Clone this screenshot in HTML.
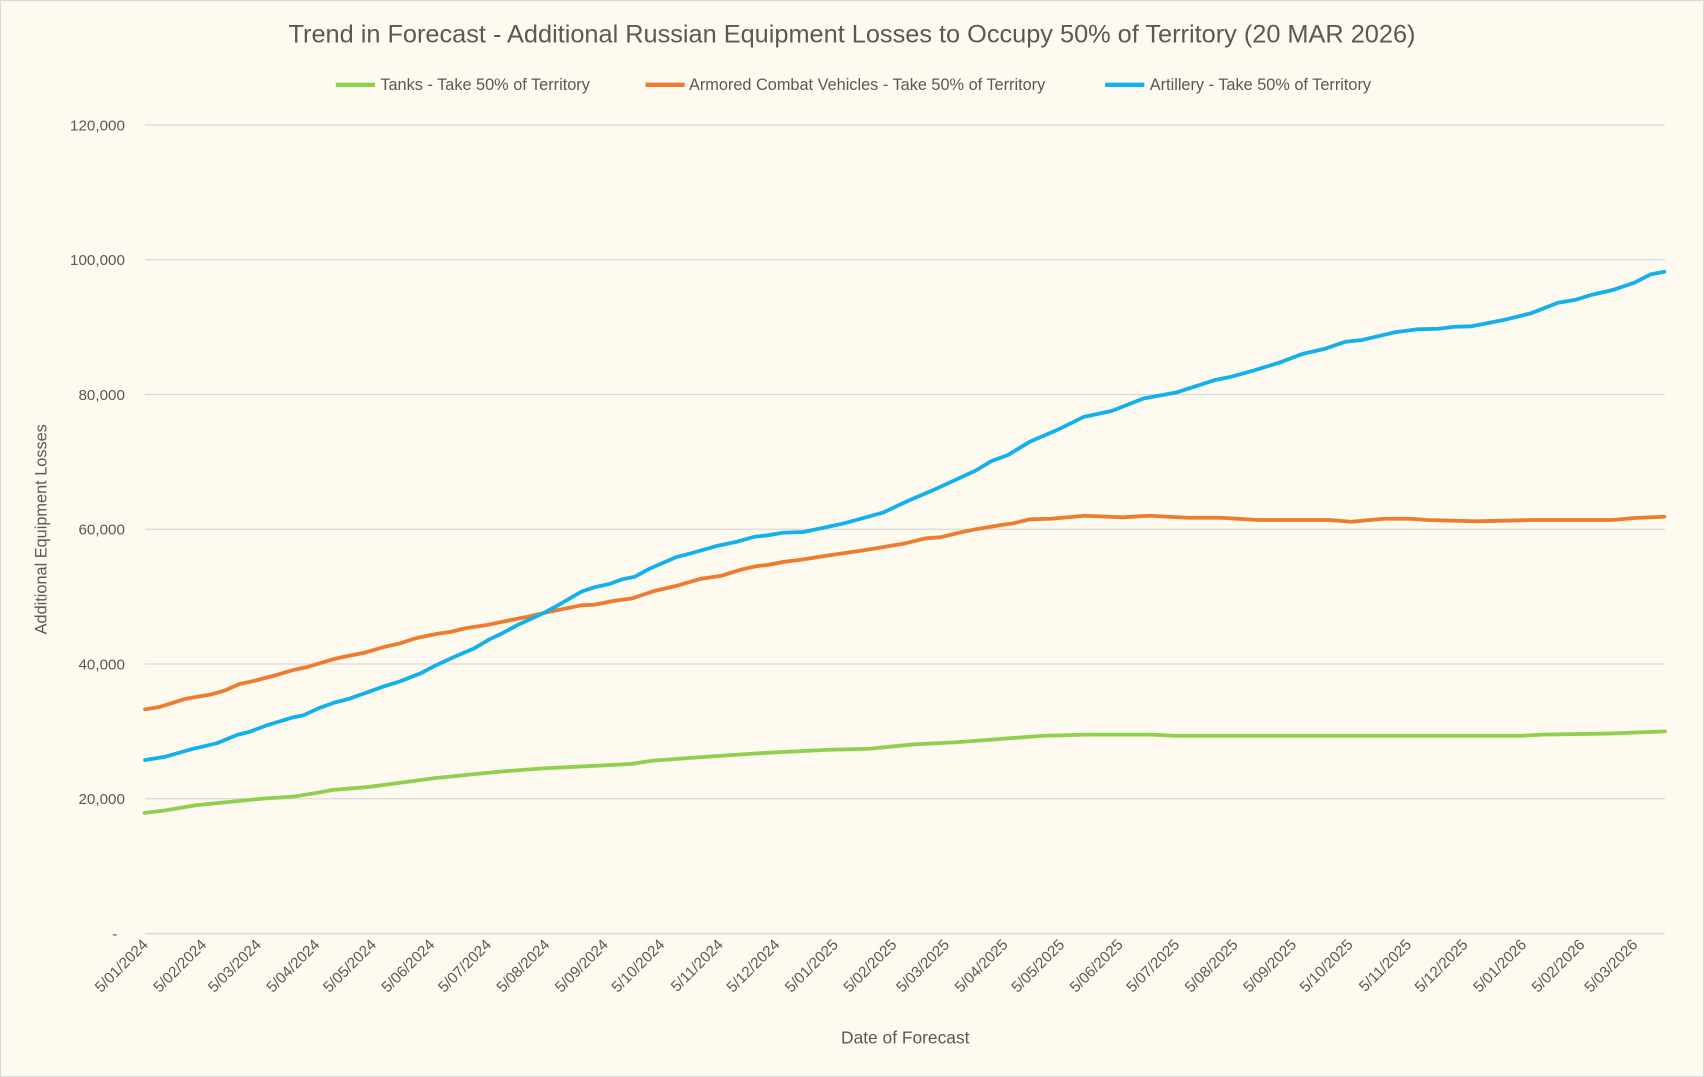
<!DOCTYPE html>
<html><head><meta charset="utf-8"><style>
html,body{margin:0;padding:0;background:#fefaf0}
svg{display:block}
text{font-family:"Liberation Sans",sans-serif;fill:#595959}
</style></head><body>
<svg width="1704" height="1077" viewBox="0 0 1568 991" xmlns="http://www.w3.org/2000/svg">
<rect x="0.5" y="0.5" width="1567" height="990" fill="#fefaf0" stroke="#d9d9d9"/>
<text x="784" y="39" font-size="23.3" text-anchor="middle">Trend in Forecast - Additional Russian Equipment Losses to Occupy 50% of Territory (20 MAR 2026)</text>
<g font-size="15">
<line x1="309" y1="78" x2="345" y2="78" stroke="#8fd14f" stroke-width="4"/><text x="350" y="83">Tanks - Take 50% of Territory</text>
<line x1="594" y1="78" x2="630" y2="78" stroke="#ee7b30" stroke-width="4"/><text x="634" y="83">Armored Combat Vehicles - Take 50% of Territory</text>
<line x1="1017" y1="78" x2="1053" y2="78" stroke="#12b0ec" stroke-width="4"/><text x="1058" y="83">Artillery - Take 50% of Territory</text>
</g>
<g stroke="#d9d9d9" stroke-width="1.2">
<line x1="133.5" y1="115" x2="1532" y2="115"/><line x1="133.5" y1="239" x2="1532" y2="239"/>
<line x1="133.5" y1="363" x2="1532" y2="363"/><line x1="133.5" y1="487" x2="1532" y2="487"/>
<line x1="133.5" y1="611" x2="1532" y2="611"/><line x1="133.5" y1="735" x2="1532" y2="735"/>
<line x1="133.5" y1="859" x2="1532" y2="859" stroke-width="1.5"/>
</g>
<g font-size="14" text-anchor="end">
<text x="115" y="120">120,000</text><text x="115" y="244">100,000</text><text x="115" y="368">80,000</text>
<text x="115" y="492">60,000</text><text x="115" y="616">40,000</text><text x="115" y="740">20,000</text><text x="108" y="864">-</text>
</g>
<text transform="translate(43,487) rotate(-90)" font-size="15" text-anchor="middle">Additional Equipment Losses</text>
<text x="833" y="960" font-size="16" text-anchor="middle">Date of Forecast</text>
<g font-size="14" text-anchor="end">
<text transform="translate(137,870) rotate(-45)">5/01/2024</text>
<text transform="translate(190.8,870) rotate(-45)">5/02/2024</text>
<text transform="translate(241.1,870) rotate(-45)">5/03/2024</text>
<text transform="translate(294.9,870) rotate(-45)">5/04/2024</text>
<text transform="translate(347,870) rotate(-45)">5/05/2024</text>
<text transform="translate(400.7,870) rotate(-45)">5/06/2024</text>
<text transform="translate(452.8,870) rotate(-45)">5/07/2024</text>
<text transform="translate(506.6,870) rotate(-45)">5/08/2024</text>
<text transform="translate(560.4,870) rotate(-45)">5/09/2024</text>
<text transform="translate(612.4,870) rotate(-45)">5/10/2024</text>
<text transform="translate(666.2,870) rotate(-45)">5/11/2024</text>
<text transform="translate(718.3,870) rotate(-45)">5/12/2024</text>
<text transform="translate(772,870) rotate(-45)">5/01/2025</text>
<text transform="translate(825.8,870) rotate(-45)">5/02/2025</text>
<text transform="translate(874.4,870) rotate(-45)">5/03/2025</text>
<text transform="translate(928.2,870) rotate(-45)">5/04/2025</text>
<text transform="translate(980.3,870) rotate(-45)">5/05/2025</text>
<text transform="translate(1034,870) rotate(-45)">5/06/2025</text>
<text transform="translate(1086.1,870) rotate(-45)">5/07/2025</text>
<text transform="translate(1139.9,870) rotate(-45)">5/08/2025</text>
<text transform="translate(1193.7,870) rotate(-45)">5/09/2025</text>
<text transform="translate(1245.7,870) rotate(-45)">5/10/2025</text>
<text transform="translate(1299.5,870) rotate(-45)">5/11/2025</text>
<text transform="translate(1351.5,870) rotate(-45)">5/12/2025</text>
<text transform="translate(1405.3,870) rotate(-45)">5/01/2026</text>
<text transform="translate(1459.1,870) rotate(-45)">5/02/2026</text>
<text transform="translate(1507.7,870) rotate(-45)">5/03/2026</text>
</g>
<g fill="none" stroke-width="3.5" stroke-linejoin="round" stroke-linecap="round">
<polyline stroke="#8fd14f" points="133,748 150,746 180,741 210,738 240,735 270,733 295,729 305,727 340,724 370,720 400,716 420,714 440,712 460,710 500,707 540,705 580,703 600,700 640,697 700,693 760,690 800,689 840,685 880,683 920,680 960,677 1000,676 1060,676 1080,677 1200,677 1290,677 1320,677 1400,677 1420,676 1480,675 1532,673"/>
<g transform="scale(0.92019)" stroke-width="3.8">
<polyline stroke="#ee7b30" points="145.1,709.3 160.4,706.7 185.9,698.7 211.4,694.3 224.2,690.7 239.5,684 252.2,681.3 272.7,676 293.1,670 308.4,666.7 333.9,659 349.2,655.7 364.5,652.7 384.9,646.7 400.2,643.3 415.5,638.3 435.9,634 451.2,631.7 466.5,628 486.9,625 507.3,620.7 527.8,616.7 548.2,612 581.3,605.3 594.1,604.7 614.5,600.7 632.3,598.3 655.3,590.7 675.7,586 701.2,578.7 721.6,575.7 742,569.3 757.3,566 767.5,565 782.8,562 803.3,559.3 828.8,555.3 869.6,549.3 905.3,543.3 925.7,538.3 940,537.3 958,533 975.3,529.3 1002.5,524.7 1013.4,523.3 1029.8,519.3 1051.5,518.7 1084.2,515.7 1122.4,517.3 1149.6,515.7 1187.7,517.7 1220.4,517.7 1258.5,520 1329.3,520 1351.1,521.7 1383.8,518.7 1411,518.7 1427.4,520 1476.4,521.3 1530.9,520 1612.6,520 1634.4,518 1664.3,516.7"/>
<polyline stroke="#12b0ec" points="145.1,760 165.5,756.7 191,749.3 216.5,743.3 236.9,735 249.7,731.7 267.6,725 293.1,717.3 303.3,715.3 318.6,708.3 333.9,702.7 349.2,698.7 364.5,693.3 384.9,686 400.2,681.3 420.6,673.3 435.9,665.3 456.3,656 474.2,648.3 489.5,639.3 502.2,633.3 517.5,625 543.1,613.3 558.4,605 581.3,591.7 594.1,587.3 609.4,584 622.1,579.3 634.9,576.7 650.2,568.3 675.7,557.3 691,553.3 716.5,546 736.9,541.7 754.8,536.7 767.5,535.3 782.8,532.7 803.3,532 823.7,527.7 844.1,523.3 850,521.7 882.7,512.7 909.9,500 937.2,488.3 975.3,470.7 991.6,461 1008,455 1029.8,441.7 1057,430 1084.2,416.7 1111.5,411 1144.1,398.3 1176.8,392.3 1215,380 1231.3,376.7 1253.1,370.7 1280.3,362.3 1302.1,354 1323.9,349 1345.7,341.7 1362,340 1394.7,332.3 1416.5,329.3 1438.3,328.7 1454.6,326.7 1471,326.3 1503.6,320 1530.9,313.3 1558.1,302.7 1574.5,300 1590.8,295 1612.6,290 1634.4,282.7 1650.7,274.3 1664.3,271.7"/>
</g>
</g>
</svg>
</body></html>
